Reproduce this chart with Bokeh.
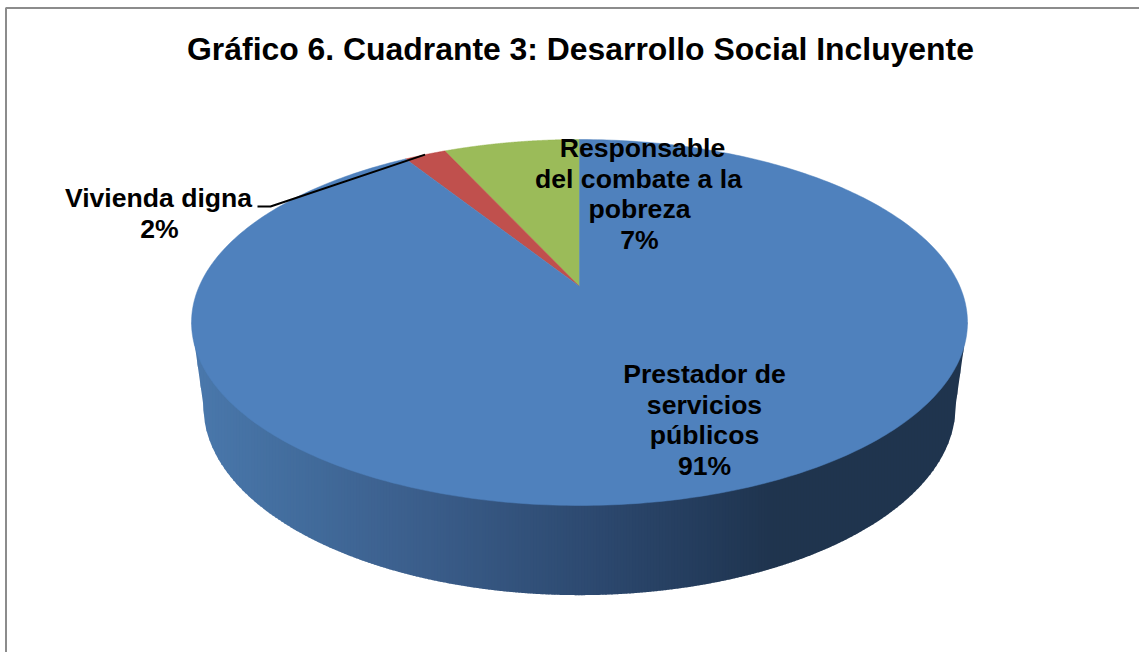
import numpy as np
from bokeh.plotting import figure
from bokeh.models import Range1d
from bokeh.core.properties import value
from bokeh.embed import file_html
from bokeh.resources import INLINE

TITLE = "Gráfico 6. Cuadrante 3: Desarrollo Social Incluyente"
categories = ["Prestador de servicios públicos", "Vivienda digna", "Responsable del combate a la pobreza"]
shares = [91.05, 2.1, 6.85]
colors = ["#4F81BD", "#C0504D", "#9BBB59"]
label_lines = [["Prestador de", "servicios", "públicos", "91%"],
               ["Vivienda digna", "2%"],
               ["Responsable", "del combate a la", "pobreza", "7%"]]
label_x = [[704, 704, 704, 704], [158, 159], [642, 638, 639, 639]]
label_y0 = [373.5, 197.5, 147.5]
LINE_H = 30.6
FONT = value("Liberation Sans")

KP = 0.1967
TOP = dict(a=380.4, b=175.9, x0=579.0, y0=286.0)
BOT = dict(a=368.7, b=181.5, x0=579.0, y0=368.7)
side_stops_x = [191, 300, 400, 500, 600, 700, 770, 967]
side_stops_c = [(74, 120, 172), (66, 108, 156), (60, 96, 142), (52, 84, 126), (44, 72, 110), (36, 60, 92), (31, 52, 78), (31, 52, 78)]


def project(theta, d):
    """theta: clockwise from the far point of the disc; perspective projection."""
    u, v = np.sin(theta), -np.cos(theta)
    w = 1 - KP * v
    return d["x0"] + d["a"] * u / w, d["y0"] + d["b"] * v / w


p = figure(width=1139, height=652, output_backend="svg", toolbar_location=None,
           x_range=Range1d(0, 1139), y_range=Range1d(652, 0), min_border=0,
           outline_line_color=None, background_fill_color="white", border_fill_color="white")
p.axis.visible = False
p.grid.visible = False

# frame
p.line([5.5, 5.5, 1147], [660, 7.5, 7.5], line_color="#8C8C8C", line_width=2)

# side wall as vertical gradient strips
t = np.linspace(0, 2 * np.pi, 1441)
bx, by = project(t, BOT)
tx, ty = project(t, TOP)
edge_l, edge_r = tx.argmin(), tx.argmax()
bl, br = bx.argmin(), bx.argmax()
order = np.argsort(bx[br:bl + 1])
low_x = np.r_[tx[edge_l], bx[br:bl + 1][order], tx[edge_r]]
low_y = np.r_[ty[edge_l], by[br:bl + 1][order], ty[edge_r]]
STEP = 3
xs, ys, cols = [], [], []
for x1 in np.arange(low_x[0], low_x[-1], STEP):
    x2 = min(x1 + STEP + 0.8, low_x[-1])
    sx = np.linspace(x1, x2, 4)
    sy = np.interp(sx, low_x, low_y)
    xs.append(np.r_[x1, sx, x2].tolist())
    ys.append(np.r_[322, sy, 322].tolist())
    c = [int(round(np.interp(x1, side_stops_x, [s[i] for s in side_stops_c]))) for i in range(3)]
    cols.append("#%02x%02x%02x" % tuple(c))
p.patches(xs, ys, fill_color=cols, line_color=None)

# top face: slices go anti-clockwise from the far point, green first
ccw = [(2, shares[2]), (1, shares[1]), (0, shares[0])]
start = 0.0
for idx, share in ccw:
    end = start + share / sum(shares) * 2 * np.pi
    th = -np.linspace(start, end, 400)
    sx, sy = project(th, TOP)
    p.patch(np.r_[TOP["x0"], sx].tolist(), np.r_[TOP["y0"], sy].tolist(),
            fill_color=colors[idx], line_color=colors[idx], line_width=0.5)
    start = end

# leader line of the small slice
lead_angle = -(shares[2] + shares[1] / 2) / sum(shares) * 2 * np.pi
lx, ly = project(np.array(lead_angle), TOP)
p.line([257, 270, float(lx)], [206, 206, float(ly)], line_color="black", line_width=2)

# labels
tx_, ty_, tt_ = [], [], []
for lines, xl, y0 in zip(label_lines, label_x, label_y0):
    for i, (s, x) in enumerate(zip(lines, xl)):
        tx_.append(x)
        ty_.append(y0 + i * LINE_H)
        tt_.append(s)
p.text(tx_, ty_, text=tt_, text_font=FONT, text_font_style="bold", text_font_size="26.6px",
       text_color="black", text_align="center", text_baseline="middle")
p.text([580], [48], text=[TITLE], text_font=FONT, text_font_style="bold", text_font_size="31.9px",
       text_color="black", text_align="center", text_baseline="middle")

open("out.html", "w").write(file_html(p, INLINE))
